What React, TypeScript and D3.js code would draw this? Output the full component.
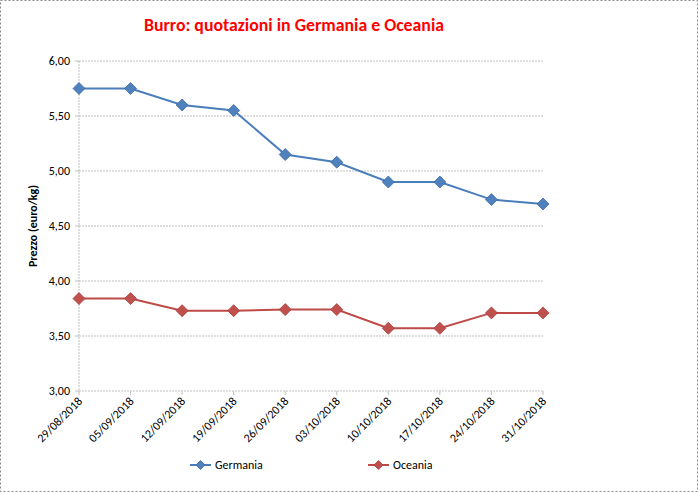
import React from "react";
import * as d3 from "d3";

const categories = ["29/08/2018","05/09/2018","12/09/2018","19/09/2018","26/09/2018","03/10/2018","10/10/2018","17/10/2018","24/10/2018","31/10/2018"];
const germania = [5.75, 5.75, 5.6, 5.55, 5.15, 5.08, 4.9, 4.9, 4.74, 4.7];
const oceania = [3.84, 3.84, 3.73, 3.73, 3.74, 3.74, 3.57, 3.57, 3.71, 3.71];
const yTicks = [3.0, 3.5, 4.0, 4.5, 5.0, 5.5, 6.0];

const W = 698, H = 492;
const left = 79, right = 543, top = 61, bottom = 391;

const fmt = (v: number) => v.toFixed(2).replace(".", ",");

function diamond(cx: number, cy: number, r: number) {
  return `M${cx},${cy - r}L${cx + r},${cy}L${cx},${cy + r}L${cx - r},${cy}Z`;
}

export default function App() {
  const x = d3.scalePoint<string>().domain(categories).range([left, right]);
  const y = d3.scaleLinear().domain([3, 6]).range([bottom, top]);
  const line = d3.line<number>().x((_, i) => x(categories[i])!).y((d) => y(d));
  const font = "Calibri, Carlito, 'Liberation Sans', Arial, sans-serif";
  const series = [
    { name: "Germania", data: germania, stroke: "#4a7ebb", fill: "#4f81bd", dark: "#3c6aa8" },
    { name: "Oceania", data: oceania, stroke: "#be4b48", fill: "#c0504d", dark: "#a63e3b" },
  ];
  const legendX = [190, 368];
  return (
    <svg width={W} height={H} style={{ position: "absolute", left: 0, top: 0 }} fontFamily={font}>
      <rect x={0.5} y={0.5} width={W - 1} height={H - 1} fill="#fff" stroke="#888" strokeDasharray="2,2" />
      <text x={294} y={31} textAnchor="middle" fill="#ff0000" fontWeight="bold" fontSize={17.8}>
        Burro: quotazioni in Germania e Oceania
      </text>
      {yTicks.map((t) => (
        <g key={t}>
          <line x1={left} x2={right} y1={y(t)} y2={y(t)} stroke="#bfbfbf" strokeDasharray="2,1" />
          <line x1={left - 4} x2={left} y1={y(t)} y2={y(t)} stroke="#bfbfbf" />
          <text x={70} y={y(t) + 4} textAnchor="end" fontSize={12} fill="#000">{fmt(t)}</text>
        </g>
      ))}
      <line x1={left} x2={left} y1={top} y2={bottom} stroke="#bfbfbf" strokeDasharray="2,1" />
      {categories.map((c) => (
        <g key={c}>
          <line x1={x(c)} x2={x(c)} y1={bottom} y2={bottom + 4} stroke="#bfbfbf" />
          <text
            transform={`translate(${x(c)! + 4},${bottom + 11}) rotate(-45)`}
            textAnchor="end"
            fontSize={12}
            fill="#000"
          >
            {c}
          </text>
        </g>
      ))}
      <text transform={`translate(37,${(top + bottom) / 2}) rotate(-90)`} textAnchor="middle" fontSize={12} fontWeight="bold">
        Prezzo (euro/kg)
      </text>
      {series.map((s) => (
        <g key={s.name}>
          <path d={line(s.data)!} fill="none" stroke={s.stroke} strokeWidth={2} />
          {s.data.map((v, i) => (
            <path key={i} d={diamond(x(categories[i])!, y(v), 6)} fill={s.fill} stroke={s.dark} strokeWidth={0.8} />
          ))}
        </g>
      ))}
      {series.map((s, i) => (
        <g key={s.name}>
          <line x1={legendX[i]} x2={legendX[i] + 21} y1={465} y2={465} stroke={s.stroke} strokeWidth={2} />
          <path d={diamond(legendX[i] + 10.5, 465, 4.5)} fill={s.fill} stroke={s.dark} strokeWidth={0.8} />
          <text x={legendX[i] + 25} y={469} fontSize={12} fill="#000">{s.name}</text>
        </g>
      ))}
    </svg>
  );
}
